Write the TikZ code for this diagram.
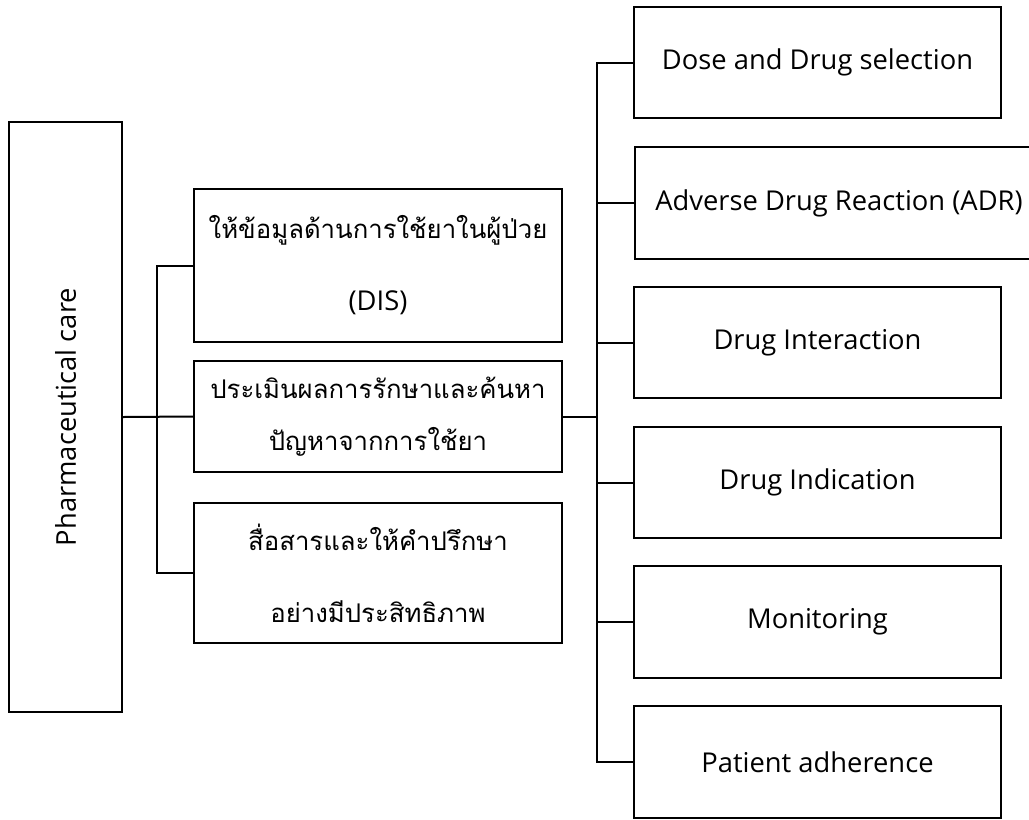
\documentclass[tikz,border=0pt]{standalone}
\usepackage{fontspec}
\newfontfamily\thai[Script=Thai]{Loma}
\newfontfamily\latn{Open Sans}
\begin{document}
\begin{tikzpicture}[x=0.75pt,y=-0.75pt,
  box/.style={draw, line width=1.5pt, inner sep=0pt, align=center,
    font=\thai\fontsize{19.3}{39}\selectfont},
  lbox/.style={box, font=\latn\fontsize{20.5}{24}\selectfont},
  conn/.style={line width=1.5pt}]
\useasboundingbox (0,0) rectangle (1029,819);
\clip (0,0) rectangle (1029,819);
% left
\node[box, minimum width=84.75pt, minimum height=442.5pt] (L) at (65.5,417) {};
\node[font=\latn\fontsize{20.5}{24}\selectfont, rotate=90] (Lt) at (L.center) {Pharmaceutical care};
% middle
\node[box, minimum width=276pt, minimum height=114.75pt] (M1) at (378,265.5)
  {ให้ข้อมูลด้านการใช้ยาในผู้ป่วย\\[15pt]{\latn\fontsize{20.5}{24}\selectfont (DIS)}};
\node[box, minimum width=276pt, minimum height=83.25pt] (M2) at (378,416.5)
  {ประเมินผลการรักษาและค้นหา\\ปัญหาจากการใช้ยา};
\node[box, minimum width=276pt, minimum height=105pt] (M3) at (378,573)
  {สื่อสารและให้คำปรึกษา\\[15pt]อย่างมีประสิทธิภาพ};
% right
\node[lbox, minimum width=275.25pt, minimum height=83.25pt] (R1) at (817.5,62.5) {Dose and Drug selection};
\node[lbox, minimum width=306pt, minimum height=84pt, anchor=west] (R2) at (634,203) {Adverse Drug Reaction (ADR)};
\node[lbox, minimum width=275.25pt, minimum height=83.25pt] (R3) at (817.5,342.5) {Drug Interaction};
\node[lbox, minimum width=275.25pt, minimum height=83.25pt] (R4) at (817.5,482.5) {Drug Indication};
\node[lbox, minimum width=275.25pt, minimum height=84pt] (R5) at (817.5,622) {Monitoring};
\node[lbox, minimum width=275.25pt, minimum height=84pt] (R6) at (817.5,762) {Patient adherence};
% connectors
\coordinate (bL) at (157,0);
\coordinate (bR) at (597,0);
\draw[conn] (L.east) -- (M2.west);
\draw[conn] (M1.west) -- (M1.west -| bL) -- (M3.west -| bL) -- (M3.west);
\draw[conn] (M2.east) -- (M2.east -| bR);
\draw[conn] (R1.west) -- (R1.west -| bR) -- (R6.west -| bR) -- (R6.west);
\foreach \r in {R2,R3,R4,R5} \draw[conn] (\r.west) -- (\r.west -| bR);
\end{tikzpicture}
\end{document}
